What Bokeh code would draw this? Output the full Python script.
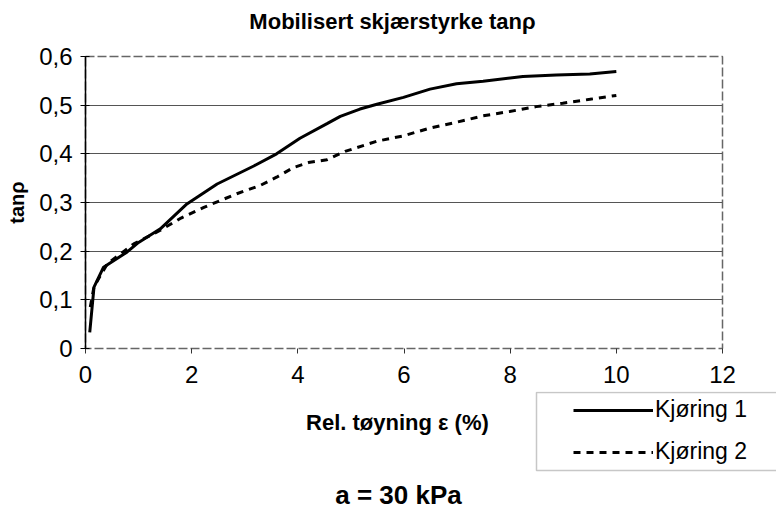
from bokeh.plotting import figure
from bokeh.layouts import column
from bokeh.models import (Range1d, FixedTicker, Label, Legend, LegendItem,
                          BoxAnnotation)
from bokeh.embed import file_html
from bokeh.resources import INLINE

# ---- data ----
k1_x = [0.08, 0.16, 0.34, 0.78, 1.0, 1.41, 1.91, 2.48, 3.17, 3.6, 4.04, 4.55,
        4.8, 5.17, 5.49, 5.99, 6.49, 6.99, 7.49, 8.24, 8.87, 9.5, 10.0]
k1_y = [0.033, 0.126, 0.167, 0.198, 0.218, 0.246, 0.297, 0.338, 0.375, 0.40,
        0.432, 0.462, 0.477, 0.492, 0.502, 0.516, 0.533, 0.544, 0.549, 0.559,
        0.562, 0.564, 0.569]
k2_x = [0.09, 0.16, 0.41, 0.91, 1.41, 1.8, 2.23, 2.85, 3.29, 3.6, 3.92, 4.2,
        4.55, 4.89, 5.49, 5.99, 6.49, 6.99, 7.49, 7.99, 8.49, 8.99, 9.5, 10.0]
k2_y = [0.085, 0.127, 0.174, 0.215, 0.243, 0.268, 0.29, 0.318, 0.335, 0.352,
        0.372, 0.382, 0.388, 0.405, 0.426, 0.437, 0.453, 0.465, 0.478, 0.487,
        0.497, 0.504, 0.512, 0.52]
x_ticks = [0, 2, 4, 6, 8, 10, 12]
y_ticks = [0, 0.1, 0.2, 0.3, 0.4, 0.5, 0.6]
y_tick_labels = ["0", "0,1", "0,2", "0,3", "0,4", "0,5", "0,6"]
series_names = ["Kjøring 1", "Kjøring 2"]
title_text = "Mobilisert skjærstyrke tanρ"
x_title = "Rel. tøyning  ε  (%)"
y_title = "tanρ"
note_text = "a = 30 kPa"

FONT = "Liberation Sans"
K1_STYLE = dict(line_color="black", line_width=3)
K2_STYLE = dict(line_color="black", line_width=3, line_dash="7 6")

W = 776
H0 = 40            # title strip
H1 = 391 - H0      # chart
H2 = 510 - 391     # lower strip


def strip(height):
    f = figure(width=W, height=height, output_backend="svg",
               toolbar_location=None,
               x_range=Range1d(0, W), y_range=Range1d(0, height),
               x_axis_type=None, y_axis_type=None, min_border=0,
               min_border_left=0, min_border_right=0, min_border_top=0,
               min_border_bottom=0,
               background_fill_color="white", border_fill_color="white")
    f.frame_align = False
    f.outline_line_color = None
    f.xgrid.grid_line_color = None
    f.ygrid.grid_line_color = None
    return f


# ---------------- title strip ----------------
p0 = strip(H0)
p0.add_layout(Label(x=392, y=H0 - 21, x_units="screen", y_units="screen",
                    text=title_text, text_font=FONT, text_font_size="22px",
                    text_font_style="bold", text_align="center",
                    text_baseline="middle", text_color="black"))

# ---------------- main chart ----------------
p = figure(width=W, height=H1, output_backend="svg", toolbar_location=None,
           x_range=Range1d(0, 12), y_range=Range1d(0, 0.6),
           min_border_left=85, min_border_right=54, min_border_top=56 - H0,
           min_border_bottom=43, background_fill_color="white",
           border_fill_color="white")
p.frame_align = False

p.outline_line_color = "#666666"
p.outline_line_dash = "9 3"
p.outline_line_width = 1.5

p.yaxis.ticker = FixedTicker(ticks=y_ticks)
p.yaxis.major_label_overrides = {t: l for t, l in zip(y_ticks, y_tick_labels)}
p.yaxis.axis_line_color = "black"
p.yaxis.axis_line_width = 1.5
p.yaxis.major_tick_in = 4
p.yaxis.major_tick_out = 5
p.yaxis.major_tick_line_color = "black"
p.yaxis.minor_tick_line_color = None
p.yaxis.major_label_standoff = 8
p.yaxis.major_label_text_font = FONT
p.yaxis.major_label_text_font_size = "24px"
p.yaxis.major_label_text_color = "black"
p.yaxis.axis_label = y_title
p.yaxis.axis_label_text_font = FONT
p.yaxis.axis_label_text_font_size = "20px"
p.yaxis.axis_label_text_font_style = "bold"
p.yaxis.axis_label_text_color = "black"
p.yaxis.axis_label_standoff = 8

p.xaxis.ticker = FixedTicker(ticks=x_ticks)
p.xaxis.axis_line_color = None
p.xaxis.major_tick_in = 0
p.xaxis.major_tick_out = 5
p.xaxis.major_tick_line_color = "#333333"
p.xaxis.minor_tick_line_color = None
p.xaxis.major_label_standoff = 12
p.xaxis.major_label_text_font = FONT
p.xaxis.major_label_text_font_size = "24px"
p.xaxis.major_label_text_color = "black"

p.xgrid.grid_line_color = None
p.ygrid.ticker = FixedTicker(ticks=y_ticks[1:-1])
p.ygrid.grid_line_color = "#555555"
p.ygrid.grid_line_width = 1.2

p.line(k1_x, k1_y, **K1_STYLE)
p.line(k2_x, k2_y, **K2_STYLE)

# ---------------- lower strip: axis title, legend, note ----------------
p2 = strip(H2)
p2.add_layout(Label(x=403, y=510 - 422, x_units="screen", y_units="screen",
                    text=x_title, text_font=FONT, text_font_size="22px",
                    text_font_style="bold", text_align="center",
                    text_baseline="middle", text_color="black"))
p2.add_layout(Label(x=398, y=510 - 494, x_units="screen", y_units="screen",
                    text=note_text, text_font=FONT, text_font_size="26px",
                    text_font_style="bold", text_align="center",
                    text_baseline="middle", text_color="black"))

p2.add_layout(BoxAnnotation(left=536, right=800, bottom=510 - 470,
                            top=H2 - 1,
                            left_units="screen", right_units="screen",
                            bottom_units="screen", top_units="screen",
                            fill_color="white", fill_alpha=1.0,
                            line_color="#444444", line_width=1.5))

l1 = p2.line(k1_x, k1_y, visible=False, **K1_STYLE)
l2 = p2.line(k2_x, k2_y, visible=False, **K2_STYLE)
legend = Legend(items=[LegendItem(label=series_names[0], renderers=[l1]),
                       LegendItem(label=series_names[1], renderers=[l2])],
                location=(573, 510 - 465), border_line_color=None,
                background_fill_alpha=0.0, margin=0, padding=0,
                glyph_width=80, glyph_height=26, label_height=26,
                spacing=15, label_standoff=2, label_text_font=FONT,
                label_text_font_size="23px", label_text_color="black")
p2.add_layout(legend, "center")

layout = column(p0, p, p2, spacing=0)
open("out.html", "w").write(file_html(layout, INLINE))
